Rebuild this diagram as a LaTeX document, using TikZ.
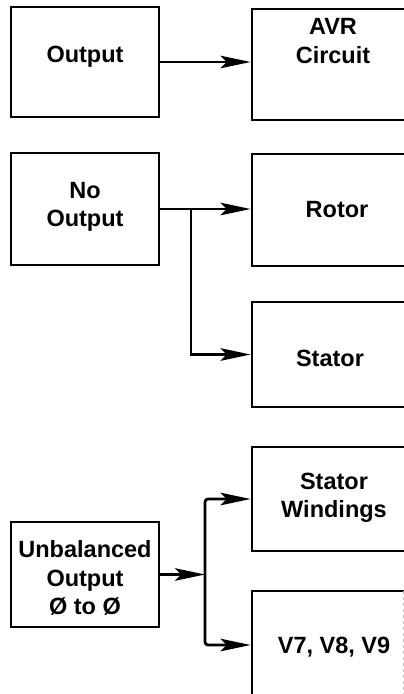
\documentclass[tikz,border=0pt]{standalone}
\usepackage{fontspec}
\setmainfont{Liberation Sans}
\usetikzlibrary{arrows.meta,calc}
\begin{document}
\begin{tikzpicture}[x=1pt,y=-1pt,
  box/.style={draw, line width=2.8pt, rectangle, inner sep=0pt},
  lbl/.style={font=\bfseries\fontsize{23.5}{28.5}\selectfont, align=center, inner sep=0pt},
  arr/.style={line width=2.8pt, -{Stealth[length=30pt,width=12.5pt,inset=6pt]}},
  faint/.style={draw=black!25, line width=0.8pt, dashed}]
\useasboundingbox (0,0) rectangle (404,694);
\clip (0,0) rectangle (404,694);
% boxes
\node[box, minimum width=148pt, minimum height=110pt] (out) at (85,62) {};
\node[box, minimum width=170pt, minimum height=111pt] (avr) at (337,64.5) {};
\node[box, minimum width=148pt, minimum height=112pt] (no) at (85,209) {};
\node[box, minimum width=170pt, minimum height=112pt] (rotor) at (337,210) {};
\node[box, minimum width=170pt, minimum height=105pt] (stator) at (337,354.5) {};
\node[box, minimum width=148pt, minimum height=105pt] (ub) at (85,574.5) {};
\node[box, minimum width=170pt, minimum height=104pt] (sw) at (337,499) {};
\node[box, minimum width=170pt, minimum height=108pt] (v7) at (337,645) {};
% labels
\node[lbl] (outT) at (85,57) {Output};
\node[lbl] (avrT) at (333,41) {AVR\\Circuit};
\node[lbl] (noT) at (85,207) {No\\Output};
\node[lbl] (rotorT) at (337,210) {Rotor};
\node[lbl] (statorT) at (330,358) {Stator};
\node[lbl] (swT) at (334,498) {Stator\\Windings};
\node[lbl] (ubT) at (85,578) {Unbalanced\\Output\\Ø to Ø};
\node[lbl] (v7T) at (334,647) {V7, V8, V9};
% connectors
\draw[arr] (out) -- (avr.west |- out);
\draw[arr] (no) -- (rotor.west |- no);
\coordinate (j1) at (191,209);
\draw[arr] (j1) |- (stator.west);
\coordinate (j2) at (205,577);
\draw[arr] (ub.east) -- (j2 |- ub.east);
\draw[arr, rounded corners=3pt] (j2) |- (sw.west);
\draw[arr, rounded corners=3pt] (j2) |- (v7.west);
\draw[faint] (403,591) -- (403,694);
\end{tikzpicture}
\end{document}
